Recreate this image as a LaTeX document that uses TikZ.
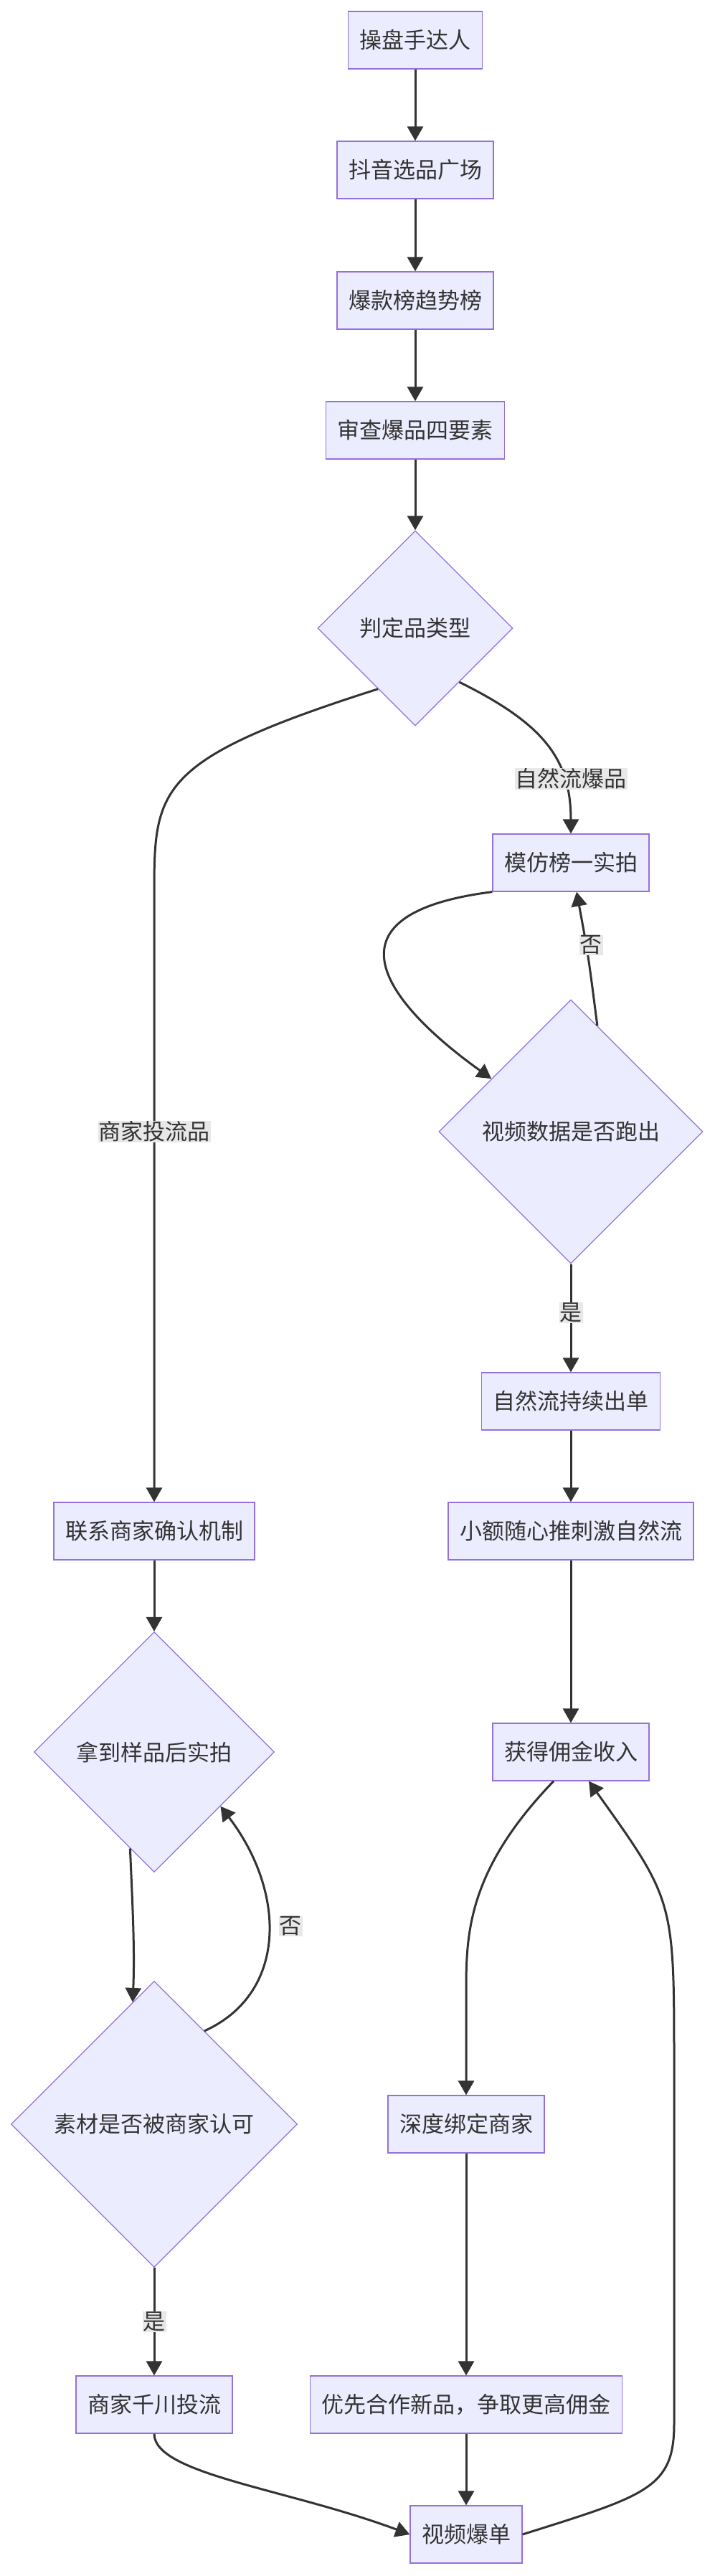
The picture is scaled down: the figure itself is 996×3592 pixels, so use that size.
\documentclass[tikz,border=0pt]{standalone}
\usepackage{fontspec}
\newfontfamily\cjk{Noto Sans CJK SC}
\usetikzlibrary{shapes.geometric, arrows.meta, calc}
\definecolor{boxfill}{HTML}{ECECFF}
\definecolor{boxline}{HTML}{9370DB}
\definecolor{edgecol}{HTML}{333333}
\definecolor{lblfill}{HTML}{E8E8E8}

\tikzset{
  box/.style={draw=boxline, fill=boxfill, line width=1.2pt, inner xsep=16pt, minimum height=80pt,
    font=\cjk\fontsize{31}{36}\selectfont, text=edgecol},
  dia/.style={diamond, draw=boxline, fill=boxfill, line width=1.2pt, inner sep=2pt,
    font=\cjk\fontsize{31}{36}\selectfont, text=edgecol},
  lbl/.style={fill=lblfill, inner sep=1pt, font=\cjk\fontsize{31}{36}\selectfont, text=edgecol},
  flow/.style={draw=edgecol, line width=3pt, -{Triangle[length=20pt,width=22pt]}},
}

\begin{document}
\begin{tikzpicture}[x=1pt, y=-1pt]
  \useasboundingbox (0,0) rectangle (996,3592);
  \node[box] (A) at (579,56) {操盘手达人};
  \node[box] (B) at (579,237) {抖音选品广场};
  \node[box] (C) at (579,419) {爆款榜趋势榜};
  \node[box] (D) at (579,600) {审查爆品四要素};
  \node[dia, minimum size=272pt] (E) at (579,876) {判定品类型};
  \node[box] (F) at (796,1203) {模仿榜一实拍};
  \node[dia, minimum size=368pt] (G) at (796,1578) {视频数据是否跑出};
  \node[box] (H) at (796,1954) {自然流持续出单};
  \node[box] (I) at (796,2135) {小额随心推刺激自然流};
  \node[box] (J) at (215,2135) {联系商家确认机制};
  \node[dia, minimum size=335pt] (K) at (215,2443) {拿到样品后实拍};
  \node[box] (L) at (796,2443) {获得佣金收入};
  \node[dia, minimum size=399pt] (M) at (215,2962) {素材是否被商家认可};
  \node[box] (N) at (650,2962) {深度绑定商家};
  \node[box] (O) at (215,3353) {商家千川投流};
  \node[box] (P) at (650,3353) {优先合作新品，争取更高佣金};
  \node[box] (Q) at (650,3534) {视频爆单};

  % main column
  \draw[flow] (A) -- (B);
  \draw[flow] (B) -- (C);
  \draw[flow] (C) -- (D);
  \draw[flow] (D) -- (E);

  % left branch
  \coordinate (e1) at ($(E.west)!0.62!(E.south)$);
  \draw[flow] (e1) .. controls (215,1060) and (215,1100) .. (215,1250) -- (J.north);
  \node[lbl] (l1) at (215,1578) {商家投流品};
  \draw[flow] (J) -- (K);
  \coordinate (k1) at ($(K.south)!0.2!(K.west)$);
  \coordinate (m1) at ($(M.north)!0.15!(M.west)$);
  \draw[flow] (k1) .. controls (185,2660) and (188,2720) .. (m1);
  \coordinate (m2) at ($(M.north)!0.35!(M.east)$);
  \coordinate (k2) at ($(K.south)!0.55!(K.east)$);
  \draw[flow] (m2) .. controls (400,2780) and (400,2640) .. (k2);
  \node[lbl] (l2) at (405,2686) {否};
  \draw[flow] (M) -- node[lbl] (l3) {是} (O);
  \draw[flow] (O.south) .. controls (215,3450) and (400,3470) .. (Q.west);

  % right branch
  \coordinate (e2) at ($(E.east)!0.55!(E.south)$);
  \draw[flow] (e2) .. controls (760,1010) and (796,1060) .. (F.north);
  \node[lbl] (l4) at (796,1086) {自然流爆品};
  \draw[flow] (F.south west) .. controls (440,1275) and (540,1400) .. ($(G.north)!0.6!(G.west)$);
  \coordinate (g1) at ($(G.north)!0.2!(G.east)$);
  \draw[flow] (g1) .. controls (820,1330) .. ($(F.south)+(8,0)$);
  \node[lbl] (l5) at (824,1318) {否};
  \draw[flow] (G) -- node[lbl, pos=0.45] (l6) {是} (H);
  \draw[flow] (H) -- (I);
  \draw[flow] (I) -- (L);
  \draw[flow] ($(L.south)+(-24,0)$) .. controls (650,2610) and (650,2700) .. (650,2780) -- (N.north);
  \draw[flow] (N) -- (P);
  \draw[flow] (P) -- (Q);
  \draw[flow] (Q.east) .. controls (900,3480) and (940,3470) .. (940,3380) -- (940,2880)
    .. controls (940,2650) .. ($(L.south)+(25,0)$);
\end{tikzpicture}
\end{document}
